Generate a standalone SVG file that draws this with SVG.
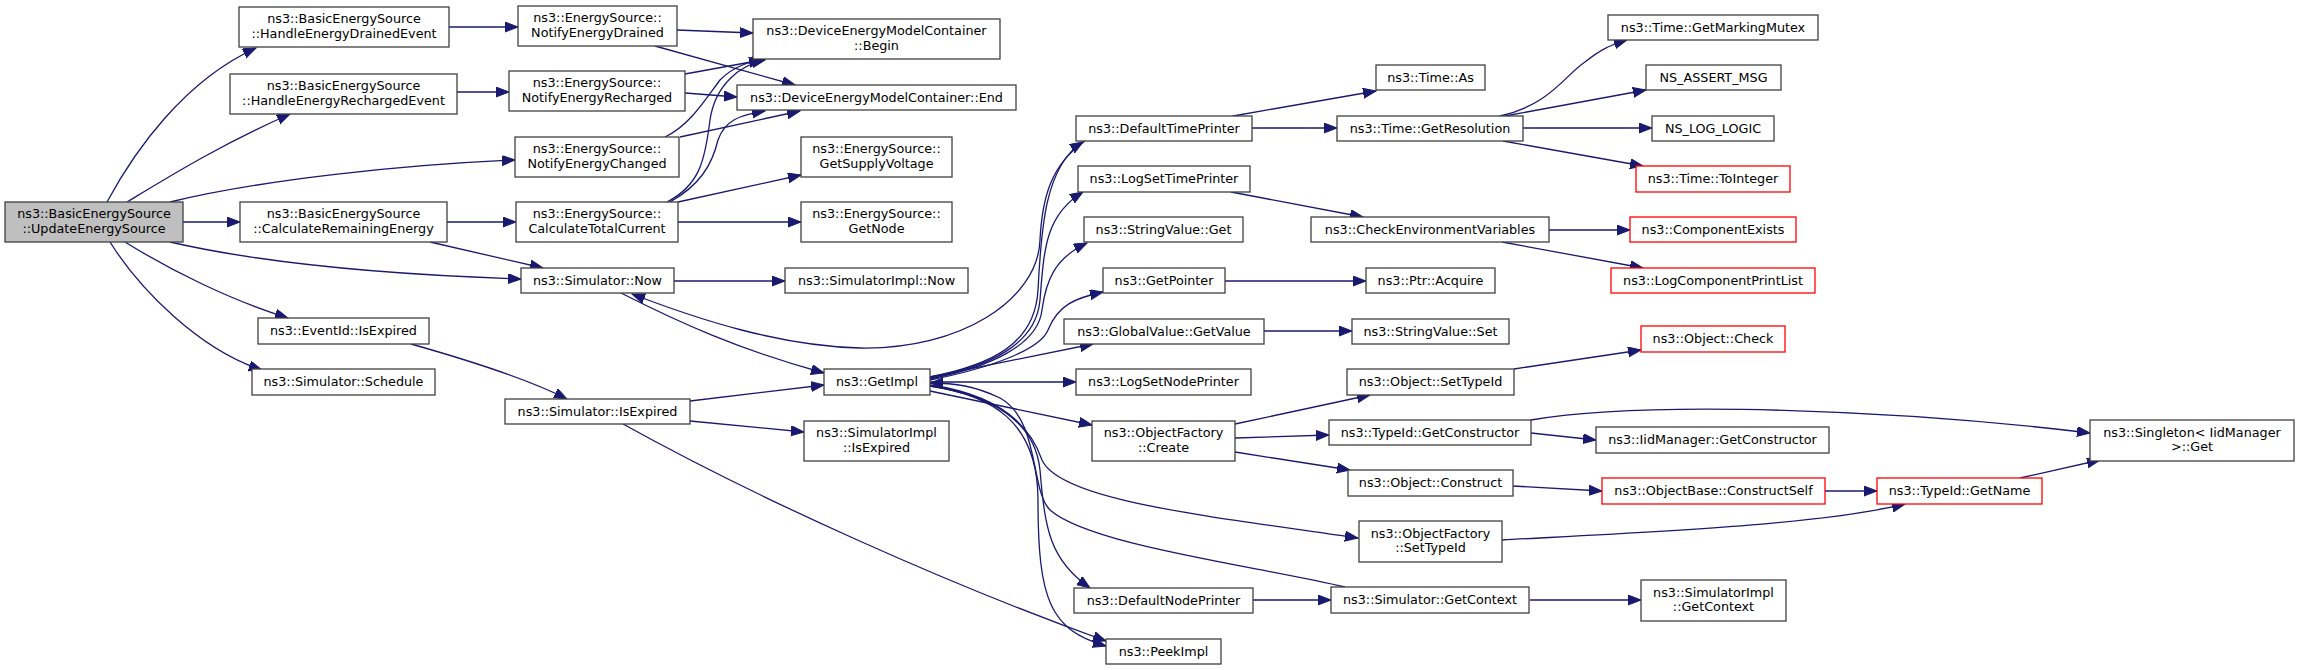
<svg xmlns="http://www.w3.org/2000/svg" width="2299" height="670" viewBox="0 0 2299 670">
<style>
.n rect{fill:#ffffff;stroke:#404040;stroke-width:1.3}
.n.r rect{stroke:#ff0000}
.n.root rect{fill:#bfbfbf}
text{font-family:"DejaVu Sans",sans-serif;font-size:12.75px;text-anchor:middle;fill:#000000}
#edges path{fill:none;stroke:#191970;stroke-width:1.3;marker-end:url(#a)}
</style>
<defs>
<marker id="a" markerUnits="userSpaceOnUse" markerWidth="14" markerHeight="11" refX="13" refY="5" orient="auto"><path d="M0,0 L13,5 L0,10 z" fill="#191970" stroke="#191970" stroke-width="1"/></marker>
</defs>
<rect width="2299" height="670" fill="#ffffff"/>
<g id="edges">
<path d="M107,202 C135,150 185,80 256,48"/>
<path d="M127,202 C170,176 220,145 290,114"/>
<path d="M170,202 C260,180 400,165 515,160"/>
<path d="M183,222 L240,222"/>
<path d="M170,242 C270,265 400,275 521,279"/>
<path d="M125,242 C170,270 230,300 288,318"/>
<path d="M110,242 C140,290 200,350 262,370"/>
<path d="M449,27 L518,27"/>
<path d="M457,92 L509,92"/>
<path d="M447,222 L516,222"/>
<path d="M430,242 L543,268"/>
<path d="M411,344 C450,355 520,375 567,399"/>
<path d="M677,30 L753,33"/>
<path d="M655,46 L795,85"/>
<path d="M685,74 L762,60"/>
<path d="M685,93 L737,97"/>
<path d="M665,137 C690,125 705,100 720,80 C735,65 750,62 765,59"/>
<path d="M680,137 L800,111"/>
<path d="M667,202 C700,185 705,160 710,120 C715,85 740,65 765,60"/>
<path d="M670,202 C700,185 712,165 718,140 C725,120 740,115 765,111"/>
<path d="M678,202 L801,175"/>
<path d="M678,222 L801,222"/>
<path d="M674,281 L785,281"/>
<path d="M621,293 C680,323 740,350 824,373"/>
<path d="M1085,141 C1050,165 1042,200 1040,240 C1038,300 960,350 860,348 C780,346 700,320 632,294"/>
<path d="M690,401 L824,385"/>
<path d="M690,421 L804,432"/>
<path d="M623,424 C760,500 950,585 1106,641"/>
<path d="M930,377 C990,365 1035,345 1038,290 C1041,230 1045,165 1083,142"/>
<path d="M930,378 C990,366 1036,345 1040,300 C1044,250 1045,215 1083,192"/>
<path d="M930,379 C990,367 1038,345 1042,310 C1046,280 1055,258 1087,243"/>
<path d="M930,380 C990,368 1040,350 1048,330 C1058,305 1075,298 1103,292"/>
<path d="M930,377 L1093,344"/>
<path d="M930,382 L1076,382"/>
<path d="M930,391 L1092,425"/>
<path d="M930,385 C1000,395 1030,425 1042,460 C1060,500 1200,515 1358,538"/>
<path d="M1345,587 C1250,565 1090,545 1050,510 C1030,490 1040,420 1000,398 C975,386 955,383 930,383"/>
<path d="M930,386 C990,395 1035,420 1040,470 C1045,530 1050,560 1090,588"/>
<path d="M930,386 C990,395 1038,420 1038,500 C1038,600 1050,630 1106,646"/>
<path d="M1233,116 L1376,91"/>
<path d="M1252,128 L1337,128"/>
<path d="M1500,116 C1550,105 1565,75 1585,62 C1600,50 1610,45 1627,40"/>
<path d="M1505,116 L1646,90"/>
<path d="M1523,128 L1652,128"/>
<path d="M1503,141 L1643,166"/>
<path d="M1231,192 L1363,217"/>
<path d="M1549,230 L1630,230"/>
<path d="M1502,242 L1643,268"/>
<path d="M1225,281 L1366,281"/>
<path d="M1264,331 L1352,331"/>
<path d="M1235,424 L1370,395"/>
<path d="M1514,369 L1641,350"/>
<path d="M1235,438 L1329,435"/>
<path d="M1235,452 L1350,470"/>
<path d="M1531,420 C1650,400 1900,410 2090,433"/>
<path d="M1531,433 L1596,440"/>
<path d="M1513,486 L1602,491"/>
<path d="M1825,491 L1877,491"/>
<path d="M2020,478 L2100,460"/>
<path d="M1502,540 C1650,532 1820,525 1905,504"/>
<path d="M1253,600 L1331,600"/>
<path d="M1530,600 L1641,600"/>
</g>
<g id="n_root" class="n root"><rect x="5" y="202" width="178" height="40"/><text x="94" y="218.3">ns3::BasicEnergySource</text><text x="94" y="232.7">::UpdateEnergySource</text></g>
<g id="n_hed" class="n"><rect x="239" y="7" width="210" height="40"/><text x="344" y="23.3">ns3::BasicEnergySource</text><text x="344" y="37.7">::HandleEnergyDrainedEvent</text></g>
<g id="n_her" class="n"><rect x="230" y="74" width="227" height="40"/><text x="343.5" y="90.3">ns3::BasicEnergySource</text><text x="343.5" y="104.7">::HandleEnergyRechargedEvent</text></g>
<g id="n_cre" class="n"><rect x="240" y="202" width="207" height="40"/><text x="343.5" y="218.3">ns3::BasicEnergySource</text><text x="343.5" y="232.7">::CalculateRemainingEnergy</text></g>
<g id="n_eie" class="n"><rect x="258" y="318" width="171" height="26"/><text x="343.5" y="335">ns3::EventId::IsExpired</text></g>
<g id="n_sch" class="n"><rect x="252" y="369" width="183" height="26"/><text x="343.5" y="386">ns3::Simulator::Schedule</text></g>
<g id="n_ned" class="n"><rect x="518" y="6" width="159" height="40"/><text x="597.5" y="22.3">ns3::EnergySource::</text><text x="597.5" y="36.7">NotifyEnergyDrained</text></g>
<g id="n_ner" class="n"><rect x="509" y="71" width="176" height="40"/><text x="597" y="87.3">ns3::EnergySource::</text><text x="597" y="101.7">NotifyEnergyRecharged</text></g>
<g id="n_nec" class="n"><rect x="515" y="137" width="164" height="40"/><text x="597" y="153.3">ns3::EnergySource::</text><text x="597" y="167.7">NotifyEnergyChanged</text></g>
<g id="n_ctc" class="n"><rect x="516" y="202" width="162" height="40"/><text x="597" y="218.3">ns3::EnergySource::</text><text x="597" y="232.7">CalculateTotalCurrent</text></g>
<g id="n_snow" class="n"><rect x="521" y="268" width="153" height="25"/><text x="597.5" y="284.5">ns3::Simulator::Now</text></g>
<g id="n_sie" class="n"><rect x="505" y="399" width="185" height="25"/><text x="597.5" y="415.5">ns3::Simulator::IsExpired</text></g>
<g id="n_beg" class="n"><rect x="753" y="19" width="247" height="40"/><text x="876.5" y="35.3">ns3::DeviceEnergyModelContainer</text><text x="876.5" y="49.7">::Begin</text></g>
<g id="n_end" class="n"><rect x="737" y="85" width="279" height="25"/><text x="876.5" y="101.5">ns3::DeviceEnergyModelContainer::End</text></g>
<g id="n_gsv" class="n"><rect x="801" y="137" width="151" height="40"/><text x="876.5" y="153.3">ns3::EnergySource::</text><text x="876.5" y="167.7">GetSupplyVoltage</text></g>
<g id="n_gn" class="n"><rect x="801" y="202" width="151" height="40"/><text x="876.5" y="218.3">ns3::EnergySource::</text><text x="876.5" y="232.7">GetNode</text></g>
<g id="n_sinow" class="n"><rect x="785" y="268" width="183" height="25"/><text x="876.5" y="284.5">ns3::SimulatorImpl::Now</text></g>
<g id="n_gi" class="n"><rect x="824" y="369" width="106" height="26"/><text x="877" y="386">ns3::GetImpl</text></g>
<g id="n_siie" class="n"><rect x="804" y="421" width="145" height="40"/><text x="876.5" y="437.3">ns3::SimulatorImpl</text><text x="876.5" y="451.7">::IsExpired</text></g>
<g id="n_dtp" class="n"><rect x="1076" y="116" width="176" height="25"/><text x="1164" y="132.5">ns3::DefaultTimePrinter</text></g>
<g id="n_lstp" class="n"><rect x="1078" y="166" width="172" height="26"/><text x="1164" y="183">ns3::LogSetTimePrinter</text></g>
<g id="n_svg" class="n"><rect x="1084" y="217" width="159" height="25"/><text x="1163.5" y="233.5">ns3::StringValue::Get</text></g>
<g id="n_gp" class="n"><rect x="1103" y="268" width="122" height="25"/><text x="1164" y="284.5">ns3::GetPointer</text></g>
<g id="n_ggv" class="n"><rect x="1064" y="319" width="200" height="25"/><text x="1164" y="335.5">ns3::GlobalValue::GetValue</text></g>
<g id="n_lsnp" class="n"><rect x="1076" y="369" width="175" height="26"/><text x="1163.5" y="386">ns3::LogSetNodePrinter</text></g>
<g id="n_ofc" class="n"><rect x="1092" y="421" width="143" height="40"/><text x="1163.5" y="437.3">ns3::ObjectFactory</text><text x="1163.5" y="451.7">::Create</text></g>
<g id="n_dnp" class="n"><rect x="1074" y="588" width="179" height="25"/><text x="1163.5" y="604.5">ns3::DefaultNodePrinter</text></g>
<g id="n_pi" class="n"><rect x="1106" y="639" width="115" height="25"/><text x="1163.5" y="655.5">ns3::PeekImpl</text></g>
<g id="n_tas" class="n"><rect x="1376" y="65" width="109" height="25"/><text x="1430.5" y="81.5">ns3::Time::As</text></g>
<g id="n_tgr" class="n"><rect x="1337" y="116" width="186" height="25"/><text x="1430" y="132.5">ns3::Time::GetResolution</text></g>
<g id="n_cev" class="n"><rect x="1311" y="217" width="238" height="25"/><text x="1430" y="233.5">ns3::CheckEnvironmentVariables</text></g>
<g id="n_pa" class="n"><rect x="1366" y="268" width="129" height="25"/><text x="1430.5" y="284.5">ns3::Ptr::Acquire</text></g>
<g id="n_svs" class="n"><rect x="1352" y="319" width="157" height="25"/><text x="1430.5" y="335.5">ns3::StringValue::Set</text></g>
<g id="n_ost" class="n"><rect x="1347" y="369" width="167" height="26"/><text x="1430.5" y="386">ns3::Object::SetTypeId</text></g>
<g id="n_tgc" class="n"><rect x="1329" y="420" width="202" height="25"/><text x="1430" y="436.5">ns3::TypeId::GetConstructor</text></g>
<g id="n_oc" class="n"><rect x="1348" y="470" width="165" height="26"/><text x="1430.5" y="487">ns3::Object::Construct</text></g>
<g id="n_ofst" class="n"><rect x="1359" y="521" width="143" height="41"/><text x="1430.5" y="537.5">ns3::ObjectFactory</text><text x="1430.5" y="552">::SetTypeId</text></g>
<g id="n_sgc" class="n"><rect x="1331" y="587" width="198" height="26"/><text x="1430" y="604">ns3::Simulator::GetContext</text></g>
<g id="n_gmm" class="n"><rect x="1608" y="15" width="210" height="25"/><text x="1713" y="31.5">ns3::Time::GetMarkingMutex</text></g>
<g id="n_nam" class="n"><rect x="1646" y="65" width="135" height="25"/><text x="1713.5" y="81.5">NS_ASSERT_MSG</text></g>
<g id="n_nll" class="n"><rect x="1652" y="116" width="122" height="25"/><text x="1713" y="132.5">NS_LOG_LOGIC</text></g>
<g id="n_tti" class="n r"><rect x="1636" y="166" width="154" height="26"/><text x="1713" y="183">ns3::Time::ToInteger</text></g>
<g id="n_ce" class="n r"><rect x="1630" y="217" width="166" height="25"/><text x="1713" y="233.5">ns3::ComponentExists</text></g>
<g id="n_lcpl" class="n r"><rect x="1611" y="268" width="204" height="25"/><text x="1713" y="284.5">ns3::LogComponentPrintList</text></g>
<g id="n_och" class="n r"><rect x="1641" y="326" width="144" height="26"/><text x="1713" y="343">ns3::Object::Check</text></g>
<g id="n_imgc" class="n"><rect x="1596" y="427" width="233" height="26"/><text x="1712.5" y="444">ns3::IidManager::GetConstructor</text></g>
<g id="n_obcs" class="n r"><rect x="1602" y="478" width="223" height="26"/><text x="1713.5" y="495">ns3::ObjectBase::ConstructSelf</text></g>
<g id="n_sigc" class="n"><rect x="1641" y="580" width="145" height="41"/><text x="1713.5" y="596.5">ns3::SimulatorImpl</text><text x="1713.5" y="611">::GetContext</text></g>
<g id="n_tgn" class="n r"><rect x="1877" y="478" width="165" height="26"/><text x="1959.5" y="495">ns3::TypeId::GetName</text></g>
<g id="n_sing" class="n"><rect x="2090" y="420" width="204" height="41"/><text x="2192" y="436.5">ns3::Singleton&lt; IidManager</text><text x="2192" y="451">&gt;::Get</text></g>
</svg>
